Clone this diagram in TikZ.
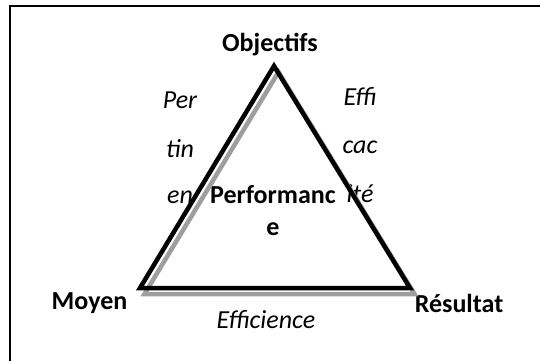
\documentclass[tikz,border=0pt]{standalone}
\usepackage{fontspec}
\setmainfont{Carlito}
\begin{document}
\begin{tikzpicture}[x=1pt,y=-1pt,
  lab/.style={font=\fontsize{26}{32}\selectfont\bfseries, inner sep=0pt, anchor=base},
  itl/.style={font=\fontsize{26}{32}\selectfont\itshape, inner sep=0pt, anchor=base},
  edge/.style={line width=4.5pt, line join=miter, draw=black},
  shadowedge/.style={line width=4.5pt, line join=miter, draw=black!38}]
\useasboundingbox (0,0) rectangle (540,360);
% frame
\draw[line width=2pt] (10,361) -- (10,6) -- (541,6);
% texts
\node[lab] (obj) at (270,51) {Objectifs};
\node[lab] (moy) at (89.5,309) {Moyen};
\node[lab] (res) at (459,312) {Résultat};
\node[lab] (perf1) at (273,203) {Performanc};
\node[lab] (perf2) at (273,235) {e};
\node[itl] (per1) at (180,108) {Per};
\node[itl] (per2) at (180,157) {tin};
\node[itl] (per3) at (180,203) {en};
\node[itl] (eff1) at (360,105) {Effi};
\node[itl] (eff2) at (360,153) {cac};
\node[itl] (eff3) at (360,202) {ité};
\node[itl] (effc) at (266,328) {Efficience};
% triangle
\coordinate (A) at (274,66);
\coordinate (B) at (140,288);
\coordinate (C) at (410,288);
\draw[shadowedge] ([shift={(4.5,6)}]A) -- ([shift={(4.5,6)}]B) -- ([shift={(4.5,6)}]C) -- cycle;
\draw[edge] (A) -- (B) -- (C) -- cycle;
\end{tikzpicture}
\end{document}
